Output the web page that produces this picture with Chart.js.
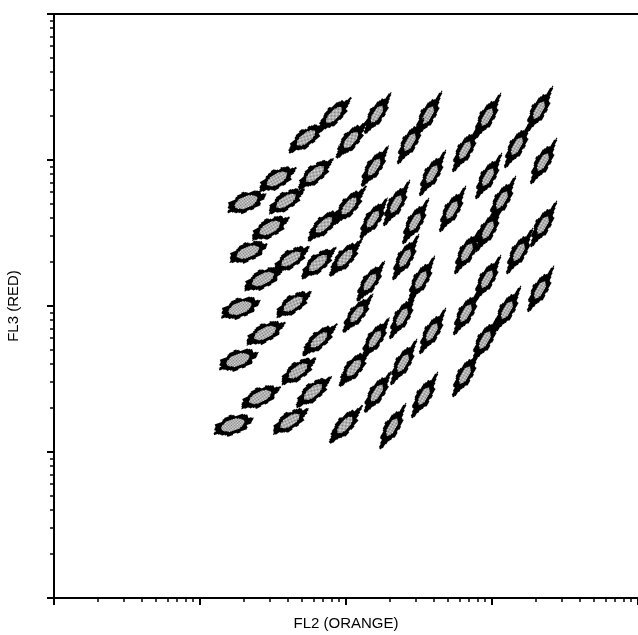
<!DOCTYPE html>
<html><head><meta charset="utf-8">
<script src="https://cdn.jsdelivr.net/npm/chart.js@4.4.1/dist/chart.umd.min.js"></script>
<style>html,body{margin:0;padding:0;background:#fff;}#wrap{width:638px;height:635px;}</style>
</head><body><div id="wrap"><canvas id="c" width="638" height="635"></canvas></div>
<script>
// Bead populations: FL2 (orange) and FL3 (red) cluster centres
const fl2 = [20.7, 33.7, 38.8, 30.1, 21.3, 42.0, 27.0, 18.8, 27.9, 18.2, 25.8, 16.8, 43.4, 65.3, 46.9, 59.4,
             41.3, 98.4, 119, 146, 113, 158, 163, 64.3, 98.4, 82.8, 53.2, 163, 108, 61.3, 156, 70.7,
             105, 153, 220, 365, 274, 925, 2099, 1483, 653, 388, 2235, 939, 532, 297, 254, 674,
             1170, 939, 2235, 1531, 326, 925, 2133, 242, 663, 1267, 388, 895, 246, 653, 342, 207];
const fl3 = [515, 741, 524, 342, 234, 210, 153, 96.8, 65.3, 42.7, 23.8, 15.3, 103, 58.5, 35.9, 25.8,
             16.3, 15.3, 88.1, 146, 37.6, 59.4, 25.4, 197, 213, 2033, 1416, 2065, 1371, 802, 895, 359,
             484, 394, 500, 2033, 1327, 1972, 2198, 1247, 1170, 802, 969, 765, 455, 376, 213, 234,
             532, 332, 359, 234, 151, 153, 129, 84.1, 89.5, 93.9, 66.4, 58.5, 40.7, 33.7, 24.2, 14.8];
const axisTicks = [1,2,3,4,5,6,7,8,9,10,20,30,40,50,60,70,80,90,100,200,300,400,500,600,700,800,900,
                   1000,2000,3000,4000,5000,6000,7000,8000,9000,10000];
const xTitle = 'FL2 (ORANGE)';
const yTitle = 'FL3 (RED)';

// ---- cluster glyph (style only) ----
const glyphCache = {};
function buildGlyph(len, wid, tail) {
  const a = len / 2, b = wid / 2;
  const W = Math.ceil(2 * a * (1 + tail) + 10), H = Math.ceil(2 * b + 10);
  const cv = document.createElement('canvas'); cv.width = W; cv.height = H;
  const g = cv.getContext('2d');
  const img = g.createImageData(W, H); const d = img.data;
  const cx = W / 2, cy = H / 2;
  const rin = 1 - 3.7 / b;
  for (let j = 0; j < H; j++) {
    for (let i = 0; i < W; i++) {
      const u = (i + 0.5 - cx) / a, v = (j + 0.5 - cy) / b;
      const vs = v / (1 - 0.22 * Math.min(u * u, 1));
      const r = Math.sqrt(u * u + vs * vs);
      const th = Math.atan2(v, u);
      const ca = Math.abs(Math.cos(th));
      const rout = 1 + 0.07 * Math.sin(7 * th + 0.5) + 0.05 * Math.sin(13 * th + 2.1) + tail * Math.pow(ca, 40);
      let col = -1;
      if (r <= rin) col = ((i + j) & 1) ? 120 : 232;
      else if (r <= rout) col = 0;
      const k = (j * W + i) * 4;
      if (col >= 0) { d[k] = d[k + 1] = d[k + 2] = col; d[k + 3] = 255; }
    }
  }
  g.putImageData(img, 0, 0);
  return cv;
}
function shapeT(x) {
  const t = (Math.log10(x) - 1.2) / 1.1;
  return Math.max(0, Math.min(1, t));
}
function glyphFor(ctx) {
  if (!ctx.raw) return 'circle';
  const t = shapeT(ctx.raw.x);
  const len = Math.round(40 - 2 * t), wid = Math.round(19 - 4.5 * t), tail = Math.round(3.5 * t) / 10;
  const key = len + '_' + wid + '_' + tail;
  if (!glyphCache[key]) glyphCache[key] = buildGlyph(len, wid, tail);
  return glyphCache[key];
}
function rotFor(ctx) {
  if (!ctx.raw) return 0;
  return -(18 + 42 * shapeT(ctx.raw.x));
}

const isMajor = v => Math.abs(Math.log10(v) - Math.round(Math.log10(v))) < 1e-9;
const tickVal = ctx => (ctx.tick ? ctx.tick.value : 1);

function axisCfg(horizontal) {
  return {
    type: 'logarithmic', min: 1, max: 10000,
    afterBuildTicks: s => { s.ticks = axisTicks.map(v => ({ value: v, major: isMajor(v) })); },
    afterFit: s => { if (horizontal) s.height = 37; else s.width = 54; },
    border: { display: true, color: '#000', width: 2 },
    ticks: { display: false },
    grid: {
      drawOnChartArea: !horizontal,
      color: ctx => (!horizontal && tickVal(ctx) === 10000) ? '#000' : 'rgba(0,0,0,0)',
      lineWidth: ctx => (!horizontal && tickVal(ctx) === 10000) ? 2 : 0,
      drawTicks: true,
      tickLength: 7,
      tickColor: '#000',
      tickWidth: ctx => isMajor(tickVal(ctx)) ? 2 : 1.5,
      tickBorderDash: ctx => isMajor(tickVal(ctx)) ? [] : [3, 20],
      tickBorderDashOffset: ctx => (isMajor(tickVal(ctx)) || horizontal) ? 0 : 20
    },
    title: {
      display: true,
      text: horizontal ? xTitle : yTitle,
      color: '#000',
      font: { family: "'Liberation Sans', Arial, sans-serif", size: 15 },
      padding: horizontal ? { top: 0, bottom: 2.5 } : { top: 5, bottom: 0 }
    }
  };
}

new Chart(document.getElementById('c'), {
  type: 'scatter',
  data: {
    datasets: [{
      data: fl2.map((x, i) => ({ x: x, y: fl3[i] })),
      pointStyle: glyphFor,
      pointRotation: rotFor,
      pointRadius: 10,
      pointHoverRadius: 10
    }]
  },
  options: {
    responsive: false,
    devicePixelRatio: 1,
    animation: false,
    layout: { autoPadding: false, padding: { top: 14, right: 0, bottom: 0, left: 0 } },
    plugins: { legend: { display: false }, tooltip: { enabled: false } },
    scales: { x: axisCfg(true), y: axisCfg(false) }
  }
});
</script></body></html>
